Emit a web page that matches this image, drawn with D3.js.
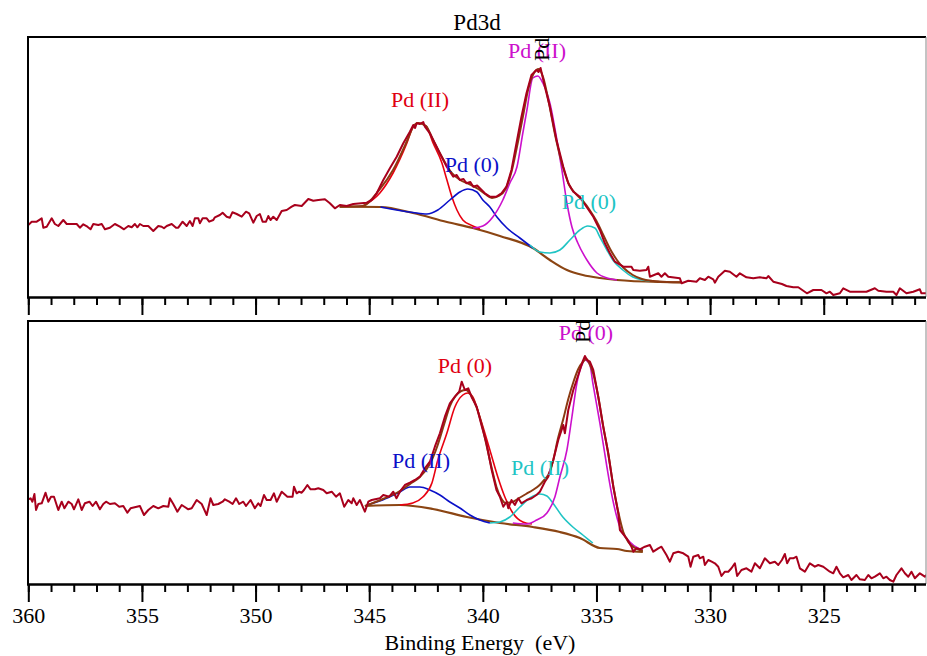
<!DOCTYPE html>
<meta charset="utf-8">
<style>
body { margin: 0; background: #fff; }
svg text { font-family: "Liberation Serif", "Times New Roman", "DejaVu Serif", serif !important; }
.raw { fill: none; stroke: #a8001c; stroke-width: 2px; stroke-linejoin: round; }
.env { fill: none; stroke: #8b3a12; stroke-width: 2px; }
.bkg { fill: none; stroke: #8b4513; stroke-width: 2.2px; }
.comp { fill: none; stroke-width: 1.6px; }
.axis path, .axis line { stroke: #000; stroke-width: 2px; }
.axis text { font-size: 22px; fill: #000; }
</style>
<body>
<script src="https://d3js.org/d3.v7.min.js"></script>
<script>

// [binding energy (eV), intensity (a.u.)]  -- top spectrum
var topRaw = [
 [360.00,72.0],[359.85,75.3],[359.63,75.3],[359.41,78.7],[359.34,69.3],[359.19,70.3],[358.97,78.7],[358.83,73.0],
 [358.68,71.0],[358.46,77.0],[358.31,73.0],[357.87,73.0],[357.73,69.3],[357.58,72.7],[357.40,70.3],[357.26,67.7],
 [357.14,73.0],[356.92,72.0],[356.77,73.0],[356.63,67.7],[356.41,69.3],[356.19,73.0],[355.97,70.3],[355.79,67.7],
 [355.60,71.0],[355.45,69.7],[355.31,73.0],[355.20,69.7],[355.09,73.0],[354.94,71.0],[354.72,71.0],[354.50,66.0],
 [354.28,71.0],[354.13,70.3],[354.03,68.7],[353.91,71.0],[353.69,73.0],[353.50,69.3],[353.40,69.3],[353.21,75.3],
 [353.03,71.0],[352.89,76.0],[352.77,71.0],[352.67,78.7],[352.52,78.7],[352.45,73.7],[352.33,78.7],[352.15,78.7],
 [352.04,75.3],[351.86,77.0],[351.79,79.7],[351.57,82.0],[351.45,84.3],[351.27,80.3],[351.13,79.3],[351.02,84.7],
 [350.83,83.0],[350.61,80.3],[350.42,85.3],[350.28,83.7],[350.10,74.3],[349.95,81.0],[349.81,83.0],[349.69,75.3],
 [349.54,75.3],[349.44,81.0],[349.34,77.0],[349.22,80.3],[349.07,77.0],[348.85,86.0],[348.63,87.0],[348.41,90.3],
 [348.27,92.0],[347.97,91.0],[347.68,98.0],[347.46,96.3],[347.24,97.0],[346.95,97.7],[346.73,93.7],[346.51,88.7],
 [346.29,92.0],[345.99,91.0],[345.70,93.0],[345.11,94.3],[344.89,97.0],[344.67,103.7],[344.38,117.0],[344.09,128.7],
 [343.79,140.3],[343.50,153.7],[343.21,165.3],[343.06,172.0],[342.98,169.0],[342.91,173.7],[342.77,173.0],[342.62,175.0],
 [342.55,170.3],[342.33,163.7],[342.11,153.7],[341.89,143.7],[341.59,130.3],[341.30,120.3],[341.15,122.0],[341.01,117.0],
 [340.85,118.0],[340.72,113.7],[340.55,115.0],[340.42,110.3],[340.25,111.5],[340.13,108.7],[339.91,103.7],[339.69,100.3],
 [339.40,100.3],[339.18,103.7],[338.96,110.3],[338.74,127.0],[338.52,153.7],[338.30,180.3],[338.08,203.7],[337.86,222.0],
 [337.64,227.0],[337.55,225.0],[337.46,229.0],[337.27,210.3],[337.05,190.3],[336.76,157.0],[336.46,130.3],[336.24,113.7],
 [336.02,105.3],[335.73,100.3],[335.44,90.3],[335.14,80.3],[334.85,67.0],[334.63,53.7],[334.41,43.7],[334.19,35.3],
 [333.82,30.3],[333.46,30.3],[333.38,27.0],[333.09,26.3],[332.80,27.0],[332.72,30.3],[332.65,20.3],[332.28,23.7],
 [332.14,20.3],[331.99,23.7],[331.84,20.3],[331.33,18.7],[331.25,13.7],[330.96,16.3],[330.60,15.3],[330.45,18.7],
 [330.23,17.0],[330.08,20.3],[329.86,17.7],[329.79,14.3],[329.64,20.3],[329.35,26.3],[329.13,25.3],[328.84,20.3],
 [328.69,23.7],[328.40,19.7],[328.10,18.7],[327.81,19.7],[327.52,18.7],[327.44,21.0],[327.22,15.3],[326.84,13.0],
 [326.64,11.0],[326.34,9.7],[326.12,9.7],[325.74,3.7],[325.46,7.0],[325.10,7.0],[324.88,3.7],[324.73,5.3],
 [324.58,2.0],[324.29,3.7],[324.14,8.7],[323.85,5.3],[323.41,5.3],[323.12,5.3],[322.75,8.7],[322.60,6.3],
 [322.24,5.3],[321.94,5.3],[321.80,2.0],[321.65,8.7],[321.36,3.7],[321.06,5.3],[320.77,7.7],[320.70,3.7],[320.48,3.7]
];
var topEnvelope = [
 [346.3,90.3],[345.3,91],[344.53,108],[343.95,127],[343.34,156],[343.07,170],[342.85,174],[342.5,171],[342.19,157],
 [341.8,140],[341.4,125],[341.0,117],[340.6,113],[340.2,108],[339.9,103],[339.6,99],[339.3,101],[339.0,108],
 [338.74,125],[338.5,150],[338.24,180],[338.0,208],[337.75,224],[337.55,228],[337.35,220],[337.1,195],[336.8,160],
 [336.5,132],[336.2,112],[335.9,103],[335.6,96],[335.3,87],[335.0,76],[334.7,62],[334.4,48],[334.1,37],
 [333.8,29],[333.4,22],[333.0,18],[332.5,16],[331.9,15],[331.25,14.7]
];
var topBkg = [
 [346.3,90.3],[344.5,90],[343.07,84],[341.58,75],[340.44,69],[339.25,61],[337.8,49],[337.05,37],[336.3,27],
 [335.6,22],[334.85,19],[334.1,17],[332.21,15],[331.25,14.7]
];
var topPdII_32 = [
 [345.3,90.5],[344.53,104],[343.95,124],[343.34,154],[343.07,170],[342.85,174],[342.5,171],[342.19,154],[341.8,134],
 [341.58,117],[341.36,100],[341.14,87],[340.88,77],[340.44,71],[340.13,68]
];
var topPd0_32 = [
 [344.5,90],[343.07,84.5],[342.46,83],[341.98,87],[341.45,97],[341.01,105],[340.66,108],[340.26,105],[340.0,97],
 [339.69,90],[339.38,80],[338.94,69],[338.37,59],[337.8,49]
];
var topPdII_52 = [
 [340.44,69],[340.0,71],[339.56,80],[339.12,97],[338.81,114],[338.5,130],[338.24,164],[338.06,187],[337.8,219],
 [337.58,221],[337.36,214],[337.05,194],[336.74,157],[336.52,127],[336.3,94],[336.08,70],[335.82,54],[335.42,37],
 [334.98,24],[334.54,19],[334.1,17]
];
var topPd0_52 = [
 [337.93,52],[337.49,45],[337.05,44],[336.61,47],[336.17,57],[335.73,67],[335.38,71],[335.07,69],[334.85,60],
 [334.54,47],[334.28,37],[333.84,27],[333.4,20],[332.96,17],[332.65,16]
];

// bottom spectrum
var botRaw = [
 [360.00,84.7],[359.90,85.7],[359.82,82.3],[359.73,90.0],[359.66,74.0],[359.56,80.0],[359.41,80.7],[359.24,91.3],
 [359.12,82.3],[359.00,87.3],[358.87,87.3],[358.68,74.0],[358.53,82.3],[358.41,75.7],[358.24,82.3],[358.09,80.0],
 [357.99,74.7],[357.80,84.7],[357.65,74.0],[357.51,80.7],[357.31,82.3],[357.17,78.0],[357.02,82.3],[356.85,74.7],
 [356.70,80.0],[356.58,82.3],[356.41,80.0],[356.19,80.7],[356.00,77.3],[355.82,78.0],[355.64,71.3],[355.50,75.7],
 [355.09,78.0],[354.91,69.0],[354.72,74.0],[354.50,78.0],[354.28,75.7],[354.06,78.0],[353.84,77.3],[353.77,85.7],
 [353.62,80.0],[353.44,72.3],[353.25,79.0],[352.96,74.7],[352.81,75.7],[352.59,84.0],[352.37,80.0],[352.15,69.0],
 [351.98,85.7],[351.86,79.0],[351.64,80.0],[351.45,82.3],[351.35,84.7],[351.16,82.3],[351.01,80.0],[350.86,85.7],
 [350.72,80.0],[350.54,82.3],[350.42,78.0],[350.22,84.0],[350.03,75.7],[349.88,80.7],[349.78,78.0],[349.63,89.0],
 [349.51,84.0],[349.34,84.0],[349.19,90.7],[349.07,82.3],[348.85,92.3],[348.60,87.3],[348.37,87.3],[348.31,97.3],
 [348.19,90.7],[348.08,92.3],[347.97,91.3],[347.87,94.0],[347.72,99.0],[347.58,94.7],[347.39,94.7],[347.24,95.7],
 [347.02,94.0],[346.87,90.7],[346.65,92.3],[346.46,87.3],[346.29,90.7],[346.10,77.3],[345.92,84.0],[345.77,80.7],
 [345.70,85.7],[345.55,79.0],[345.41,84.0],[345.19,72.3],[345.04,82.3],[344.89,84.0],[344.53,85.7],[344.38,89.0],
 [344.12,87.3],[343.94,92.3],[343.80,85.7],[343.65,92.3],[343.43,99.0],[343.21,101.3],[342.99,104.0],[342.77,107.3],
 [342.55,115.7],[342.33,122.3],[342.11,137.3],[341.89,150.7],[341.67,167.3],[341.45,180.7],[341.23,187.3],[341.04,192.3],
 [340.93,202.3],[340.79,194.0],[340.64,195.7],[340.50,187.3],[340.27,177.3],[340.04,157.3],[339.84,140.7],[339.61,114.0],
 [339.40,94.0],[339.25,87.3],[339.10,77.3],[338.95,82.3],[338.88,75.7],[338.74,84.0],[338.59,79.0],[338.44,85.7],
 [338.30,80.7],[338.07,84.0],[337.85,85.7],[337.64,89.0],[337.49,92.3],[337.27,102.3],[337.12,107.3],[336.90,124.0],
 [336.68,144.0],[336.46,159.0],[336.39,150.7],[336.24,174.0],[336.02,194.0],[335.80,209.0],[335.61,222.3],[335.51,228.0],
 [335.41,224.0],[335.29,222.3],[335.14,214.0],[334.92,187.3],[334.70,157.3],[334.48,130.7],[334.26,97.3],[334.04,70.7],
 [333.97,54.0],[333.67,45.7],[333.46,37.3],[333.38,32.3],[333.24,35.7],[333.09,34.7],[332.87,37.3],[332.65,39.0],
 [332.50,32.3],[332.28,35.7],[332.14,37.3],[331.92,29.0],[331.77,22.3],[331.62,30.7],[331.40,32.3],[331.18,30.7],
 [330.96,27.3],[330.86,17.3],[330.74,27.3],[330.52,29.0],[330.45,25.7],[330.30,27.3],[330.23,19.0],[330.08,24.0],
 [329.93,22.3],[329.79,20.7],[329.64,17.3],[329.50,8.0],[329.35,12.3],[329.20,12.3],[329.06,15.7],[328.91,20.7],
 [328.81,8.0],[328.62,14.0],[328.40,15.7],[328.18,12.3],[328.03,20.7],[327.81,15.7],[327.59,25.7],[327.37,20.7],
 [327.15,22.3],[327.00,19.0],[326.84,24.0],[326.71,30.0],[326.61,20.7],[326.49,25.7],[326.34,25.7],[326.20,27.3],
 [326.05,15.7],[325.83,12.3],[325.61,20.7],[325.39,17.3],[325.24,19.0],[325.02,17.3],[324.73,12.3],[324.58,10.7],
 [324.44,17.3],[324.29,10.7],[324.14,6.7],[323.92,9.0],[323.78,4.0],[323.56,9.0],[323.41,4.7],[323.19,4.0],
 [323.04,9.0],[322.90,5.7],[322.75,7.3],[322.53,10.7],[322.38,5.7],[322.24,7.3],[322.09,4.0],[321.94,2.3],
 [321.80,9.0],[321.58,15.7],[321.43,10.7],[321.28,7.3],[321.14,12.3],[320.99,5.7],[320.77,10.7],[320.55,7.3],[320.48,9.0]
];
var botEnvelope = [
 [345.19,78],[344.4,85],[343.65,93],[343.2,100],[342.77,107],[342.33,120],[342.0,138],[341.7,160],[341.45,178],
 [341.2,188],[340.95,193],[340.75,194],[340.5,188],[340.25,175],[340.0,155],[339.8,135],[339.6,115],[339.4,97],
 [339.2,86],[339.0,81],[338.7,82],[338.4,86],[338.1,90],[337.8,94],[337.5,99],[337.3,104],[337.1,110],[336.9,124],
 [336.7,145],[336.46,165],[336.24,185],[336.0,203],[335.8,215],[335.6,222],[335.45,225],[335.3,220],[335.14,210],
 [334.92,187],[334.7,157],[334.48,130],[334.26,98],[334.04,72],[333.82,52],[333.6,42],[333.3,36],[332.96,33]
];
var botBkg = [
 [345.19,78],[343.65,79],[342.2,75],[340.7,67],[339.25,61],[337.8,57],[336.61,52],[335.73,46],[334.85,36],
 [334.1,35],[333.66,33],[332.96,32]
];
var botPdII_32 = [
 [345.11,79],[344.41,84],[343.65,92],[343.21,97],[342.77,97],[342.33,94],[341.89,89],[341.45,82],[341.01,76],
 [340.57,69],[340.13,64],[339.69,61]
];
var botPd0_32 = [
 [343.65,79],[343.08,81],[342.64,87],[342.24,101],[341.98,124],[341.58,151],[341.23,177],[340.88,189],[340.66,191],
 [340.44,187],[340.13,167],[339.69,134],[339.34,107],[339.03,87],[338.68,71],[338.24,62],[337.84,60]
];
var botPdII_52 = [
 [339.69,61],[339.25,62],[338.81,67],[338.37,77],[337.93,86],[337.49,90],[337.18,88],[336.92,81],[336.48,67],
 [336.04,57],[335.6,49],[335.16,41]
];
var botPd0_52 = [
 [338.68,61],[338.07,60],[337.63,64],[337.18,71],[336.83,87],[336.61,107],[336.3,134],[336.08,167],[335.86,201],
 [335.64,219],[335.51,224],[335.29,219],[335.16,201],[334.85,161],[334.54,117],[334.28,84],[333.97,57],[333.53,42],
 [333.18,36],[332.96,34]
];

var majorTicks = [360, 355, 350, 345, 340, 335, 330, 325];
var minorTicks = d3.range(321, 361, 1);
var serif = "'Liberation Serif', 'Times New Roman', 'DejaVu Serif', serif";

var width = 927, height = 656;
var svg = d3.select("body").append("svg")
    .attr("width", width)
    .attr("height", height);

var x = d3.scaleLinear().domain([360, 320.5]).range([28.3, 926]);

var panels = [
  { top: 37, bottom: 297, max: 260, raw: topRaw, env: topEnvelope, bkg: topBkg,
    comps: [[topPdII_32, "#e80010"], [topPd0_32, "#0a10c8"], [topPdII_52, "#cc10cc"], [topPd0_52, "#20c4c4"]],
    labels: [["Pd (II)", 420, 107, "#e00010"], ["Pd (0)", 472, 172, "#0a10c8"],
             ["Pd (II)", 537, 58, "#cc10cc"], ["Pd (0)", 589, 209, "#20c4c4"]],
    vlabel: ["Pd (II)", 549, 61], showLabels: false },
  { top: 321, bottom: 584, max: 263, raw: botRaw, env: botEnvelope, bkg: botBkg,
    comps: [[botPdII_32, "#0a10c8"], [botPd0_32, "#e80010"], [botPdII_52, "#20c4c4"], [botPd0_52, "#cc10cc"]],
    labels: [["Pd (0)", 465, 373, "#e00010"], ["Pd (II)", 421, 468, "#0a10c8"],
             ["Pd (II)", 540, 475, "#20c4c4"], ["Pd (0)", 586, 340, "#cc10cc"]],
    vlabel: ["Pd (0)", 590, 343], showLabels: true }
];

panels.forEach(function(p, i) {
  var y = d3.scaleLinear().domain([0, p.max]).range([p.bottom, p.top]);
  var line = d3.line()
      .x(function(d) { return x(d[0]); })
      .y(function(d) { return y(d[1]); });
  var smooth = d3.line()
      .x(function(d) { return x(d[0]); })
      .y(function(d) { return y(d[1]); })
      .curve(d3.curveMonotoneX);

  svg.append("defs").append("clipPath")
      .attr("id", "clip" + i)
    .append("rect")
      .attr("x", 28).attr("y", p.top)
      .attr("width", 898).attr("height", p.bottom - p.top);

  var g = svg.append("g").attr("clip-path", "url(#clip" + i + ")");

  g.append("path").datum(p.bkg).attr("class", "bkg").attr("d", smooth);
  p.comps.forEach(function(c) {
    g.append("path").datum(c[0]).attr("class", "comp")
        .attr("stroke", c[1]).attr("d", smooth);
  });
  g.append("path").datum(p.env).attr("class", "env").attr("d", smooth);
  g.append("path").datum(p.raw).attr("class", "raw").attr("d", line);

  p.labels.forEach(function(l) {
    g.append("text")
        .attr("x", l[1]).attr("y", l[2])
        .attr("text-anchor", "middle")
        .style("font-family", serif)
        .style("font-size", "22px")
        .attr("fill", l[3])
        .text(l[0]);
  });
  g.append("text")
      .attr("transform", "translate(" + p.vlabel[1] + "," + p.vlabel[2] + ") rotate(-90)")
      .style("font-family", serif)
      .style("font-size", "22px")
      .attr("fill", "#000")
      .text(p.vlabel[0]);

  // frame
  svg.append("line").attr("x1", 27).attr("x2", 926).attr("y1", p.top).attr("y2", p.top)
      .attr("stroke", "#000").attr("stroke-width", 2);
  svg.append("line").attr("x1", 28).attr("x2", 28).attr("y1", p.top).attr("y2", p.bottom)
      .attr("stroke", "#000").attr("stroke-width", 2);
  svg.append("line").attr("x1", 926).attr("x2", 926).attr("y1", p.top).attr("y2", p.bottom)
      .attr("stroke", "#888").attr("stroke-width", 1);

  // minor ticks
  svg.append("g")
      .attr("class", "axis")
      .attr("transform", "translate(0," + p.bottom + ")")
      .call(d3.axisBottom(x).tickValues(minorTicks).tickSize(8).tickSizeOuter(0).tickFormat(""));
  // major ticks
  svg.append("g")
      .attr("class", "axis")
      .attr("transform", "translate(0," + p.bottom + ")")
      .call(d3.axisBottom(x).tickValues(majorTicks).tickSize(18).tickSizeOuter(0).tickPadding(5)
        .tickFormat(p.showLabels ? d3.format("d") : ""));
});

svg.selectAll(".axis path").attr("d", "M27,0.5H926");
svg.selectAll(".axis").attr("font-family", serif);
svg.selectAll(".axis text").style("font-family", serif).style("font-size", "22px");

svg.append("text")
    .attr("x", 477).attr("y", 30)
    .attr("text-anchor", "middle")
    .style("font-family", serif)
    .style("font-size", "23px")
    .text("Pd3d");

svg.append("text")
    .attr("x", 480).attr("y", 650)
    .attr("text-anchor", "middle")
    .style("font-family", serif)
    .style("font-size", "22px")
    .style("white-space", "pre")
    .text("Binding Energy  (eV)");

</script>
</body>
